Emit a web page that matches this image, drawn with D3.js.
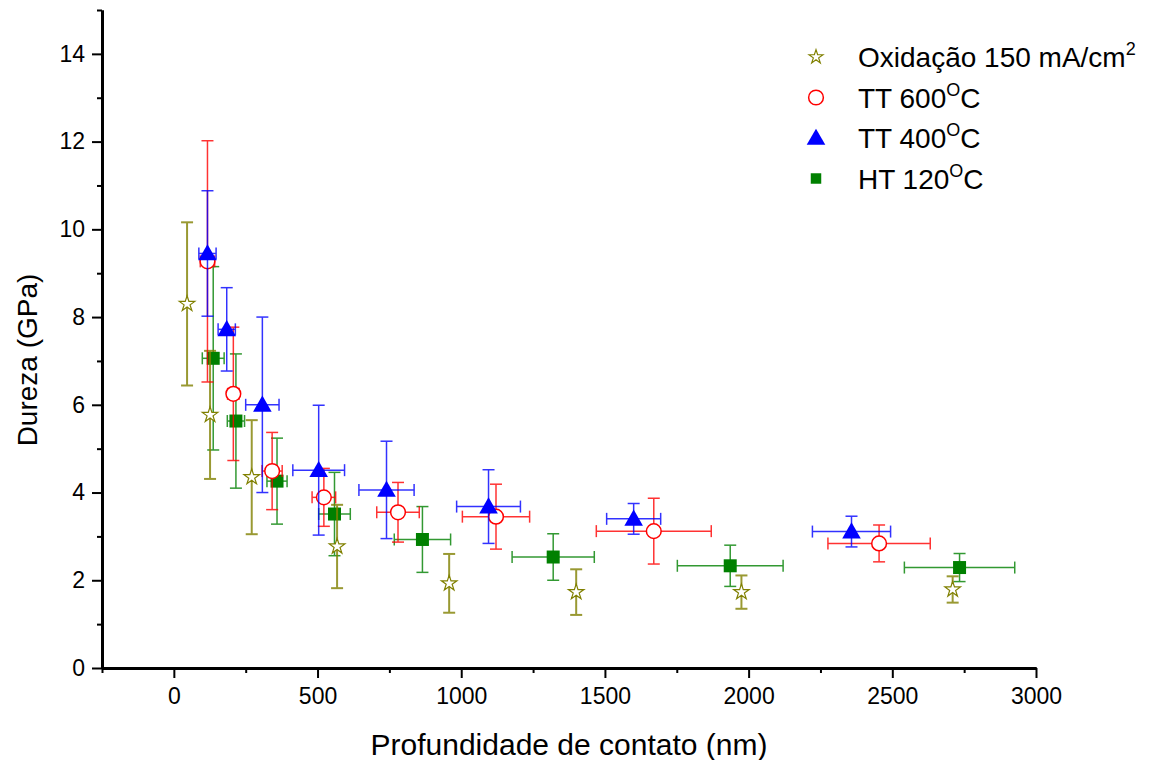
<!DOCTYPE html>
<html>
  <head>
    <meta charset="utf-8">
    <title>Dureza vs profundidade</title>
    <script src="https://d3js.org/d3.v7.min.js"></script>
    <style>
      body { margin: 0; background: #fff; }
      svg { font-family: "Liberation Sans", Arial, sans-serif; }
      .axis .domain { stroke: #000; stroke-width: 3; }
      .axis line { stroke: #000; stroke-width: 2; }
      .axis text { font-size: 23px; fill: #000; }
    </style>
  </head>
  <body>
    <svg width="1167" height="760"></svg>

    <script>
      // Oxidação 150 mA/cm2 (stars)
      var oxX = [46, 126, 271, 568, 958, 1400, 1975, 2710];
      var oxY = [8.30, 5.77, 4.35, 2.77, 1.93, 1.73, 1.73, 1.79];
      var oxYerr = [1.86, 1.46, 1.30, 0.95, 0.67, 0.52, 0.38, 0.30];
      var oxXerr = [0, 0, 0, 0, 0, 0, 0, 0];

      // TT 600 C (open circles)
      var t600X = [117, 207, 342, 522, 780, 1121, 1670, 2454];
      var t600Y = [9.27, 6.25, 4.49, 3.89, 3.55, 3.45, 3.12, 2.84];
      var t600Yerr = [2.75, 1.52, 0.88, 0.66, 0.68, 0.74, 0.75, 0.42];
      var t600Xerr = [25, 20, 35, 41, 74, 117, 200, 178];

      // TT 400 C (triangles)
      var t400X = [117, 184, 308, 504, 740, 1095, 1600, 2358];
      var t400Y = [9.45, 7.72, 6.00, 4.51, 4.06, 3.68, 3.40, 3.11];
      var t400Yerr = [1.43, 0.95, 2.00, 1.48, 1.11, 0.84, 0.35, 0.35];
      var t400Xerr = [30, 30, 58, 90, 96, 111, 94, 136];

      // HT 120 C (squares)
      var htX = [137, 216, 359, 559, 865, 1320, 1936, 2734];
      var htY = [7.06, 5.63, 4.26, 3.51, 2.93, 2.53, 2.33, 2.29];
      var htYerr = [2.09, 1.53, 0.98, 0.95, 0.75, 0.53, 0.47, 0.32];
      var htXerr = [38, 30, 35, 55, 98, 143, 184, 192];

      var xTicks = [0, 500, 1000, 1500, 2000, 2500, 3000];
      var yTicks = [0, 2, 4, 6, 8, 10, 12, 14];

      var svg = d3.select("svg");
      var x = d3.scaleLinear().domain([-250, 3000]).range([102, 1036]);
      var y = d3.scaleLinear().domain([0, 15]).range([668, 10]);

      function zip(xs, ys, xe, ye) {
        return xs.map((v, i) => ({ x: v, y: ys[i], xe: xe[i], ye: ye[i] }));
      }

      var series = [
        { name: "HT", color: "#008000", shape: "square", data: zip(htX, htY, htXerr, htYerr) },
        { name: "Ox", color: "#808000", shape: "star", data: zip(oxX, oxY, oxXerr, oxYerr) },
        { name: "T600", color: "#ff0000", shape: "circle", data: zip(t600X, t600Y, t600Xerr, t600Yerr) },
        { name: "T400", color: "#0000ff", shape: "triangle", data: zip(t400X, t400Y, t400Xerr, t400Yerr) }
      ];

      var symbols = {
        square: d3.symbol().type(d3.symbolSquare).size(169),
        star: d3.symbol().type(d3.symbolStar).size(75),
        circle: d3.symbol().type(d3.symbolCircle).size(170),
        triangle: d3.symbol().type(d3.symbolTriangle).size(150)
      };

      function drawMarker(sel, s) {
        var p = sel.append("path").attr("d", symbols[s.shape]());
        if (s.shape == "circle" || s.shape == "star") {
          p.style("fill", "#fff").style("stroke", s.color).style("stroke-width", s.shape == "star" ? 1.2 : 1.5);
        } else {
          p.style("fill", s.color);
        }
        if (s.shape == "triangle") p.attr("transform", "translate(0,1.5)");
        return p;
      }

      var cap = 6;
      series.forEach(s => {
        var g = svg.append("g");
        var eb = g.selectAll("g.eb").data(s.data).enter().append("g")
          .attr("class", "eb")
          .style("stroke", s.color)
          .style("stroke-width", s.shape == "star" ? 2 : 1.5)
          .style("opacity", 0.8);
        // vertical error bars
        eb.append("line")
          .attr("x1", d => x(d.x)).attr("x2", d => x(d.x))
          .attr("y1", d => y(d.y + d.ye)).attr("y2", d => y(d.y - d.ye));
        eb.append("line")
          .attr("x1", d => x(d.x) - cap).attr("x2", d => x(d.x) + cap)
          .attr("y1", d => y(d.y + d.ye)).attr("y2", d => y(d.y + d.ye));
        eb.append("line")
          .attr("x1", d => x(d.x) - cap).attr("x2", d => x(d.x) + cap)
          .attr("y1", d => y(d.y - d.ye)).attr("y2", d => y(d.y - d.ye));
        // horizontal error bars
        var hx = eb.filter(d => d.xe > 0);
        hx.append("line")
          .attr("x1", d => x(d.x - d.xe)).attr("x2", d => x(d.x + d.xe))
          .attr("y1", d => y(d.y)).attr("y2", d => y(d.y));
        hx.append("line")
          .attr("x1", d => x(d.x - d.xe)).attr("x2", d => x(d.x - d.xe))
          .attr("y1", d => y(d.y) - cap).attr("y2", d => y(d.y) + cap);
        hx.append("line")
          .attr("x1", d => x(d.x + d.xe)).attr("x2", d => x(d.x + d.xe))
          .attr("y1", d => y(d.y) - cap).attr("y2", d => y(d.y) + cap);

        g.selectAll("g.pt").data(s.data).enter().append("g")
          .attr("class", "pt")
          .attr("transform", d => `translate(${x(d.x)},${y(d.y)})`)
          .each(function () { drawMarker(d3.select(this), s); });
      });

      // axes
      var xMinor = d3.range(-250, 3001, 250).filter(v => v % 500 != 0);
      var yMinor = d3.range(1, 16, 2);

      svg.append("g").attr("class", "axis")
        .attr("transform", "translate(0,668)")
        .call(d3.axisBottom(x).tickValues(xMinor).tickSize(5).tickSizeOuter(0).tickFormat(""));
      svg.append("g").attr("class", "axis")
        .attr("transform", "translate(0,668)")
        .call(d3.axisBottom(x).tickValues(xTicks).tickSize(10).tickSizeOuter(0).tickPadding(10).tickFormat(d3.format("d")));

      svg.append("g").attr("class", "axis")
        .attr("transform", "translate(102,0)")
        .call(d3.axisLeft(y).tickValues(yMinor).tickSize(5).tickSizeOuter(0).tickFormat(""));
      svg.append("g").attr("class", "axis")
        .attr("transform", "translate(102,0)")
        .call(d3.axisLeft(y).tickValues(yTicks).tickSize(10).tickSizeOuter(0).tickPadding(7).tickFormat(d3.format("d")));

      svg.append("text")
        .attr("x", 569).attr("y", 755)
        .attr("text-anchor", "middle")
        .style("font-size", "30px")
        .text("Profundidade de contato (nm)");

      svg.append("text")
        .attr("transform", "translate(37,360) rotate(-90)")
        .attr("text-anchor", "middle")
        .style("font-size", "28px")
        .text("Dureza (GPa)");

      // legend
      var legendItems = [
        { s: series[1], label: "Oxidação 150 mA/cm", sup: "2", after: "" },
        { s: series[2], label: "TT 600", sup: "O", after: "C" },
        { s: series[3], label: "TT 400", sup: "O", after: "C" },
        { s: series[0], label: "HT 120", sup: "O", after: "C" }
      ];
      var lg = svg.append("g").selectAll("g").data(legendItems).enter().append("g")
        .attr("transform", (d, i) => `translate(816,${57 + i * 40.5})`);
      lg.each(function (d) {
        var m = drawMarker(d3.select(this), d.s);
        if (d.s.shape == "square") m.attr("d", d3.symbol().type(d3.symbolSquare).size(110)());
        if (d.s.shape == "star") m.attr("d", d3.symbol().type(d3.symbolStar).size(60)());
      });
      var lt = lg.append("text")
        .attr("x", 42).attr("y", 10)
        .style("font-size", "28px");
      lt.append("tspan").text(d => d.label);
      lt.append("tspan").attr("dy", -12).style("font-size", "18px").text(d => d.sup);
      lt.append("tspan").attr("dy", 12).text(d => d.after);
    </script>
  </body>
</html>
